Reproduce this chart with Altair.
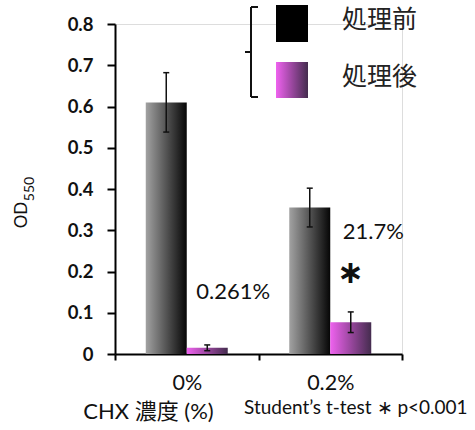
import altair as alt
import pandas as pd

# ---- data -------------------------------------------------------------
categories = ["0%", "0.2%"]                 # CHX concentration
series = ["処理前", "処理後"]                # before / after treatment
od_before = [0.610, 0.355]
od_after = [0.015, 0.077]
err_before = [0.072, 0.047]
err_after = [0.007, 0.025]
ratio_labels = ["0.261%", "21.7%"]
signif_marks = ["", "∗"]
y_ticks = [0.0, 0.1, 0.2, 0.3, 0.4, 0.5, 0.6, 0.7, 0.8]
x_title = "CHX 濃度 (%)"
note_text = "Student’s t-test ∗ p<0.001"

rows = []
for i, c in enumerate(categories):
    rows.append(dict(conc=c, group=series[0], od=od_before[i], err=err_before[i],
                     label="", sig=""))
    rows.append(dict(conc=c, group=series[1], od=od_after[i], err=err_after[i],
                     label=ratio_labels[i], sig=signif_marks[i]))
df = pd.DataFrame(rows)
df["lo"] = df["od"] - df["err"]
df["hi"] = df["od"] + df["err"]

# ---- styles ------------------------------------------------------------
FONT = "Lato, Noto Sans CJK JP"
CJK = "Noto Sans CJK JP, Lato"
INK = "#111111"

grad_before = alt.Gradient(
    gradient="linear", x1=0, x2=1, y1=0, y2=0,
    stops=[alt.GradientStop(offset=0, color="#a2a2a2"),
           alt.GradientStop(offset=1, color="#060606")],
)
grad_after = alt.Gradient(
    gradient="linear", x1=0, x2=1, y1=0, y2=0,
    stops=[alt.GradientStop(offset=0, color="#ef62ef"),
           alt.GradientStop(offset=1, color="#442c4e")],
)

x_enc = alt.X(
    "conc:N", sort=categories,
    scale=alt.Scale(domain=categories, paddingInner=0, paddingOuter=0),
    axis=alt.Axis(
        title=x_title, titleFont=FONT, titleFontSize=22, titleFontWeight="normal",
        titleColor=INK, titleX=33, titleY=57, titleAlign="center",
        titleBaseline="middle", titleAngle=0,
        labelFont=FONT, labelFontSize=21.5, labelColor=INK, labelAngle=0,
        labelPadding=12, tickSize=6, tickWidth=2, tickColor="#000",
        tickBand="extent", domainColor="#000", domainWidth=2,
    ),
)
xo_enc = alt.XOffset(
    "group:N", sort=series,
    scale=alt.Scale(domain=series, paddingInner=0, paddingOuter=0.75),
)
y_scale = alt.Scale(domain=[0, 0.8], nice=False, zero=True)
y_enc = alt.Y(
    "od:Q", scale=y_scale,
    axis=alt.Axis(
        title="", values=y_ticks, grid=False,
        labelExpr="datum.value == 0 ? '0' : format(datum.value, '.1f')",
        labelFont=FONT, labelFontSize=18.5, labelFontWeight="bold", labelColor=INK,
        labelPadding=14, tickSize=8, tickWidth=2, tickColor="#000",
        domainColor="#000", domainWidth=2,
    ),
)

base = alt.Chart(df)

bars_before = base.transform_filter(alt.datum.group == series[0]).mark_bar(
    fill=grad_before).encode(x=x_enc, xOffset=xo_enc, y=y_enc)
bars_after = base.transform_filter(alt.datum.group == series[1]).mark_bar(
    fill=grad_after).encode(x=x_enc, xOffset=xo_enc, y=y_enc)

err_line = base.mark_rule(color=INK, strokeWidth=1.5).encode(
    x=x_enc, xOffset=xo_enc, y=alt.Y("lo:Q", scale=y_scale), y2="hi:Q")
cap_hi = base.mark_tick(orient="horizontal", size=6, thickness=1.5, color=INK,
                        opacity=1).encode(
    x=x_enc, xOffset=xo_enc, y=alt.Y("hi:Q", scale=y_scale))
cap_lo = base.mark_tick(orient="horizontal", size=6, thickness=1.5, color=INK,
                        opacity=1).encode(
    x=x_enc, xOffset=xo_enc, y=alt.Y("lo:Q", scale=y_scale))

after_rows = base.transform_filter(alt.datum.group == series[1])
ratio0 = after_rows.transform_filter(alt.datum.conc == categories[0]).mark_text(
    font=FONT, fontSize=22, color=INK, align="left", baseline="middle",
    dx=-11, dy=-56).encode(x=x_enc, xOffset=xo_enc,
                           y=alt.Y("od:Q", scale=y_scale), text="label:N")
ratio1 = after_rows.transform_filter(alt.datum.conc == categories[1]).mark_text(
    font=FONT, fontSize=22, color=INK, align="left", baseline="middle",
    dx=-8, dy=-90).encode(x=x_enc, xOffset=xo_enc,
                          y=alt.Y("od:Q", scale=y_scale), text="label:N")
star = after_rows.transform_filter(alt.datum.conc == categories[1]).mark_text(
    font="DejaVu Sans", fontSize=32, fontWeight="bold", color=INK,
    align="center", baseline="middle", dy=-49).encode(
    x=x_enc, xOffset=xo_enc, y=alt.Y("od:Q", scale=y_scale), text="sig:N")

one = alt.Data(values=[{"k": 0}])

# y-axis title: OD with subscript 550
od_title = alt.Chart(one).mark_text(
    text="OD", font=FONT, fontSize=17, color=INK, angle=270,
    align="center", baseline="middle").encode(x=alt.value(-93), y=alt.value(191))
od_sub = alt.Chart(one).mark_text(
    text="550", font=FONT, fontSize=14, color=INK, angle=270,
    align="center", baseline="middle").encode(x=alt.value(-85), y=alt.value(165))

# legend: bracket, swatches, labels
bracket_v = alt.Chart(one).mark_rule(color=INK, strokeWidth=2).encode(
    x=alt.value(136), y=alt.value(-17), y2=alt.value(73))
bracket_t = alt.Chart(one).mark_rule(color=INK, strokeWidth=2).encode(
    x=alt.value(136), x2=alt.value(143), y=alt.value(-17))
bracket_b = alt.Chart(one).mark_rule(color=INK, strokeWidth=2).encode(
    x=alt.value(136), x2=alt.value(143), y=alt.value(73))
bracket_m = alt.Chart(one).mark_rule(color=INK, strokeWidth=2).encode(
    x=alt.value(130), x2=alt.value(136), y=alt.value(28))
swatch_before = alt.Chart(one).mark_rect(fill="#000000").encode(
    x=alt.value(161), x2=alt.value(193), y=alt.value(-19), y2=alt.value(18))
swatch_after = alt.Chart(one).mark_rect(fill=grad_after).encode(
    x=alt.value(161), x2=alt.value(193), y=alt.value(38), y2=alt.value(74))
leg_before = alt.Chart(one).mark_text(
    text=series[0], font=CJK, fontSize=25, color="#222", align="left",
    baseline="middle").encode(x=alt.value(227), y=alt.value(-4))
leg_after = alt.Chart(one).mark_text(
    text=series[1], font=CJK, fontSize=25, color="#222", align="left",
    baseline="middle").encode(x=alt.value(227), y=alt.value(53))

note = alt.Chart(one).mark_text(
    text=note_text, font=FONT, fontSize=19, color=INK, align="left",
    baseline="middle").encode(x=alt.value(129), y=alt.value(384))

chart = alt.layer(
    bars_before, bars_after, err_line, cap_hi, cap_lo,
    ratio0, ratio1, star, od_title, od_sub,
    bracket_v, bracket_t, bracket_b, bracket_m,
    swatch_before, swatch_after, leg_before, leg_after, note,
).properties(
    width=287, height=330,
    autosize=alt.AutoSizeParams(type="none"),
    padding={"left": 115, "top": 24, "right": 73, "bottom": 76},
).configure_view(strokeWidth=0).configure(background="white")

chart.save("out.html", embed_options={"renderer": "svg", "actions": False})
